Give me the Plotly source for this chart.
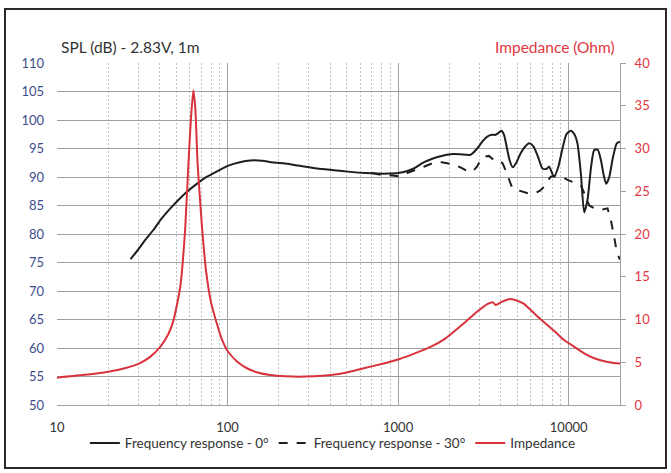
import plotly.graph_objects as go
import numpy as np

# ---------------- data ----------------
freq_0 = [27, 30, 33, 36.7, 41, 46.2, 52, 57.8, 66, 75.7, 88, 101, 118, 136, 160, 180, 213, 260, 335, 420,
          525, 640, 754, 880, 1000, 1120, 1235, 1420, 1616, 1800, 2030, 2300, 2660, 2910, 3130, 3335,
          3550, 3730, 3900, 4030, 4180, 4330, 4520, 4700, 4950, 5240, 5550, 5860, 6200, 6600, 7020,
          7400, 7680, 8210, 8700, 9200, 9700, 10280, 10800, 11260, 11800, 12330, 12900, 13500, 14100,
          14800, 15500, 16000, 16600, 17300, 18200, 19150, 20000]
spl_0 = [75.6, 77.3, 79.0, 80.7, 82.7, 84.5, 86.1, 87.4, 88.8, 90.05, 91.1, 92.0, 92.6, 92.9, 92.85,
         92.6, 92.4, 92.0, 91.5, 91.2, 90.9, 90.7, 90.6, 90.6, 90.7, 91.0, 91.5, 92.6, 93.3, 93.7,
         94.0, 94.0, 93.9, 95.0, 96.3, 97.1, 97.4, 97.4, 97.8, 98.1, 97.4, 95.3, 92.8, 91.7, 92.6,
         94.2, 95.3, 95.9, 95.4, 93.6, 91.5, 91.4, 91.8, 90.0, 91.8, 95.0, 97.5, 98.1, 97.5, 95.9,
         90.5, 83.8, 86.0, 91.5, 94.7, 94.8, 92.8, 90.5, 88.8, 90.0, 93.5, 95.9, 96.2]

freq_30 = [700, 788, 900, 1030, 1150, 1235, 1415, 1616, 1800, 1940, 2150, 2323, 2520, 2720, 2900,
           3050, 3250, 3410, 3600, 3730, 4000, 4100, 4250, 4400, 4550, 4680, 5000, 5240, 5700, 6270,
           6800, 7180, 7500, 7860, 8600, 9200, 9840, 10800, 11780, 12200, 12600, 13200, 14000, 14760,
           15800, 16900, 17660, 18490, 19150, 20000]
spl_30 = [90.7, 90.4, 90.3, 90.1, 90.8, 91.1, 91.8, 92.5, 92.6, 92.4, 92.1, 91.7, 91.1, 90.9, 91.8,
          93.0, 93.6, 93.7, 93.0, 92.7, 92.7, 92.4, 91.3, 90.0, 88.7, 88.0, 87.7, 87.5, 87.2, 87.1,
          87.6, 88.3, 89.3, 90.05, 90.35, 90.0, 89.5, 89.0, 88.6, 87.5, 86.4, 85.0, 84.6, 84.5,
          84.3, 84.5, 82.5, 79.5, 76.8, 75.5]

freq_z = [10, 14, 20, 25, 30.7, 35, 40.3, 45, 48.2, 52.8, 56.4, 59, 61, 63, 64.8, 66.7, 70.7, 75, 80,
          86.6, 93, 101, 115, 130, 150, 178, 220, 260, 320, 401, 500, 629, 800, 988, 1200, 1550, 1900,
          2430, 2900, 3335, 3600, 3730, 3850, 4000, 4560, 5000, 5500, 6000, 6700, 7500, 8400, 9400,
          10800, 12330, 14000, 16000, 18000, 20000]
imp = [3.2, 3.5, 3.9, 4.3, 4.9, 5.6, 6.8, 8.3, 9.9, 13.8, 20.5, 28.3, 33.5, 36.8, 34.5, 28.3, 21.0,
       15.5, 12.0, 9.5, 7.6, 6.2, 5.0, 4.3, 3.8, 3.5, 3.35, 3.3, 3.35, 3.5, 3.8, 4.3, 4.8, 5.3, 5.9,
       6.8, 7.8, 9.55, 10.9, 11.8, 12.0, 11.7, 11.8, 12.0, 12.4, 12.2, 11.8, 11.1, 10.2, 9.36, 8.5,
       7.6, 6.8, 6.05, 5.5, 5.15, 4.95, 4.85]

x_major = [10, 100, 1000, 10000]
x_major_text = ["10", "100", "1000", "10000"]
x_minor = [m * d for d in [10, 100, 1000, 10000] for m in range(2, 10) if m * d <= 20000]

FONT = "Lato"
BLUE = "#3d4c8c"
RED = "#e0363f"
LINE_RED = "#d8323c"
GRID = "#a0a0a0"
MINOR = "#c4c4c4"

fig = go.Figure()
fig.add_trace(go.Scatter(x=freq_30, y=spl_30, mode="lines", name="Frequency response - 30°",
                         legendrank=2,
                         line=dict(color="#1e1e1e", width=2, dash="dash"), yaxis="y"))
fig.add_trace(go.Scatter(x=freq_0, y=spl_0, mode="lines", name="Frequency response - 0°",
                         legendrank=1,
                         line=dict(color="#1e1e1e", width=2, shape="spline", smoothing=0.6), yaxis="y"))
fig.add_trace(go.Scatter(x=freq_z, y=imp, mode="lines", name="Impedance", legendrank=3,
                         line=dict(color=LINE_RED, width=2, shape="spline", smoothing=0.5), yaxis="y2"))

fig.update_layout(
    width=671, height=473,
    margin=dict(l=57, r=51, t=63, b=68),
    paper_bgcolor="white", plot_bgcolor="white",
    font=dict(family=FONT, size=13, color="#333333"),
    showlegend=True,
    legend=dict(orientation="h", x=0.49, xanchor="center", y=-0.112, yanchor="middle",
                font=dict(size=13.5, color="#333333"), traceorder="normal",
                itemwidth=30, bgcolor="rgba(0,0,0,0)"),
    xaxis=dict(type="log", range=[1, np.log10(20000)], tickmode="array",
               tickvals=x_major, ticktext=x_major_text,
               showgrid=True, gridcolor=GRID, gridwidth=1,
               minor=dict(tickmode="array", tickvals=x_minor, showgrid=True,
                          gridcolor=MINOR, griddash="2px,2px", gridwidth=1),
               showline=True, linecolor=GRID, linewidth=1, ticks="", zeroline=False,
               tickfont=dict(size=13, color="#333333"), ticklabelstandoff=10),
    yaxis=dict(range=[50, 110], dtick=5, showgrid=True, gridcolor=GRID, gridwidth=1,
               zeroline=False, showline=False, ticks="",
               tickfont=dict(size=13, color=BLUE), ticklabelstandoff=12),
    yaxis2=dict(range=[0, 40], dtick=5, overlaying="y", side="right", showgrid=False,
                zeroline=False, showline=True, linecolor=GRID, linewidth=1,
                ticks="outside", ticklen=5, tickcolor=GRID,
                tickfont=dict(size=13, color=RED), ticklabelstandoff=6),
    annotations=[
        dict(text="SPL (dB) - 2.83V, 1m", xref="paper", yref="paper", x=0.004, y=1.047,
             xanchor="left", yanchor="middle", showarrow=False,
             font=dict(size=15.5, color="#333333", family=FONT)),
        dict(text="Impedance (Ohm)", xref="paper", yref="paper", x=0.995, y=1.047,
             xanchor="right", yanchor="middle", showarrow=False,
             font=dict(size=15.5, color=RED, family=FONT)),
    ],
    shapes=[
        dict(type="rect", xref="paper", yref="paper",
             x0=(5 - 57) / 563, x1=(666 - 57) / 563, y0=(405 - 468) / 342, y1=(405 - 9) / 342,
             line=dict(color="#2a2a2a", width=2), fillcolor="rgba(0,0,0,0)", layer="above"),
    ],
)

fig.write_html("out.html")
